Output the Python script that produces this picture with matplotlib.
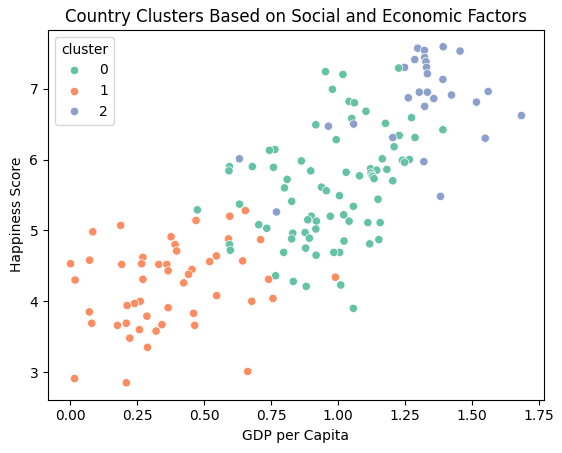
import matplotlib
matplotlib.use('Agg')
import matplotlib.pyplot as plt
import seaborn as sns
import pandas as pd

gdp_0 = [0.475,0.632,0.704,0.734,0.595,0.598,0.595,0.593,0.680,0.744,0.764,0.759,0.863,0.898,0.810,0.800,
         0.827,0.938,0.956,1.005,1.030,1.080,1.121,1.144,1.165,1.182,1.204,1.123,1.127,1.130,1.134,1.149,
         1.057,0.971,1.021,1.041,1.111,1.157,0.900,0.887,0.919,0.917,0.877,0.893,0.831,0.827,1.022,1.118,
         1.152,0.879,0.797,0.918,0.984,1.006,0.767,0.833,0.881,1.010,1.057,0.993,1.209,0.953,0.979,0.917,
         1.018,1.041,1.061,1.104,1.051,1.177,1.226,1.274,1.391,1.228,1.287,1.240,1.248,1.266]
happy_0 = [5.29,5.37,5.08,5.03,4.80,4.72,5.90,5.84,5.90,6.13,6.14,5.89,5.98,5.84,5.72,5.60,
           5.41,5.61,5.56,5.49,5.82,5.77,5.87,5.85,6.01,5.86,5.70,5.81,5.78,5.76,5.73,5.44,
           5.34,5.20,5.22,5.13,5.11,5.11,5.20,5.15,5.13,5.02,4.97,4.89,4.96,4.88,4.85,4.81,
           4.87,4.75,4.69,4.65,4.69,4.69,4.36,4.28,4.21,4.23,3.90,6.28,6.18,7.24,6.99,6.49,
           7.20,6.82,6.80,6.68,6.58,6.51,7.29,6.59,6.42,6.34,6.31,5.99,5.96,6.00]

gdp_1 = [0.085,0.189,0.073,0.002,0.019,0.193,0.267,0.272,0.272,0.331,0.361,0.366,0.377,0.392,0.398,0.455,
         0.442,0.424,0.470,0.521,0.546,0.596,0.654,0.591,0.711,0.644,0.741,0.757,0.678,0.547,0.461,0.465,
         0.366,0.262,0.241,0.213,0.072,0.081,0.177,0.210,0.287,0.343,0.321,0.259,0.223,0.289,0.017,0.210,
         0.663,0.990]
happy_1 = [4.98,5.07,4.58,4.53,4.30,4.52,4.53,4.62,4.31,4.52,4.52,4.43,4.91,4.80,4.71,4.45,
           4.38,4.26,5.14,4.56,4.64,5.20,5.28,4.88,4.87,4.57,4.31,4.04,4.00,4.08,3.83,3.66,
           3.91,4.00,3.97,3.94,3.85,3.69,3.66,3.69,3.79,3.67,3.58,3.60,3.48,3.35,2.91,2.85,
           3.01,4.34]

gdp_2 = [1.392,1.297,1.322,1.455,1.286,1.323,1.328,1.330,1.333,1.248,1.391,1.303,1.333,1.262,1.357,1.423,
         1.560,1.516,1.323,1.684,1.549,1.058,1.204,1.320,1.382,0.632,0.770,0.964]
happy_2 = [7.59,7.57,7.54,7.53,7.41,7.44,7.38,7.30,7.21,7.30,7.13,6.95,6.95,6.87,6.86,6.91,
           6.96,6.81,6.75,6.62,6.30,6.50,6.31,5.97,5.48,6.01,5.26,6.47]

df = pd.DataFrame({
    'GDP per Capita': gdp_0 + gdp_1 + gdp_2,
    'Happiness Score': happy_0 + happy_1 + happy_2,
    'cluster': [0]*len(gdp_0) + [1]*len(gdp_1) + [2]*len(gdp_2),
})
# rows run from happiest to least happy, lower scores end up on top
df = df.sort_values('Happiness Score', ascending=False)

fig = plt.figure(figsize=(5.62, 4.53), dpi=100)
ax = fig.add_axes([48/562, 53.4/453, 496/562, 369.6/453])
sns.scatterplot(data=df, x='GDP per Capita', y='Happiness Score', hue='cluster', palette='Set2', ax=ax)
ax.set_title('Country Clusters Based on Social and Economic Factors')
fig.savefig('out.png', dpi=100)
